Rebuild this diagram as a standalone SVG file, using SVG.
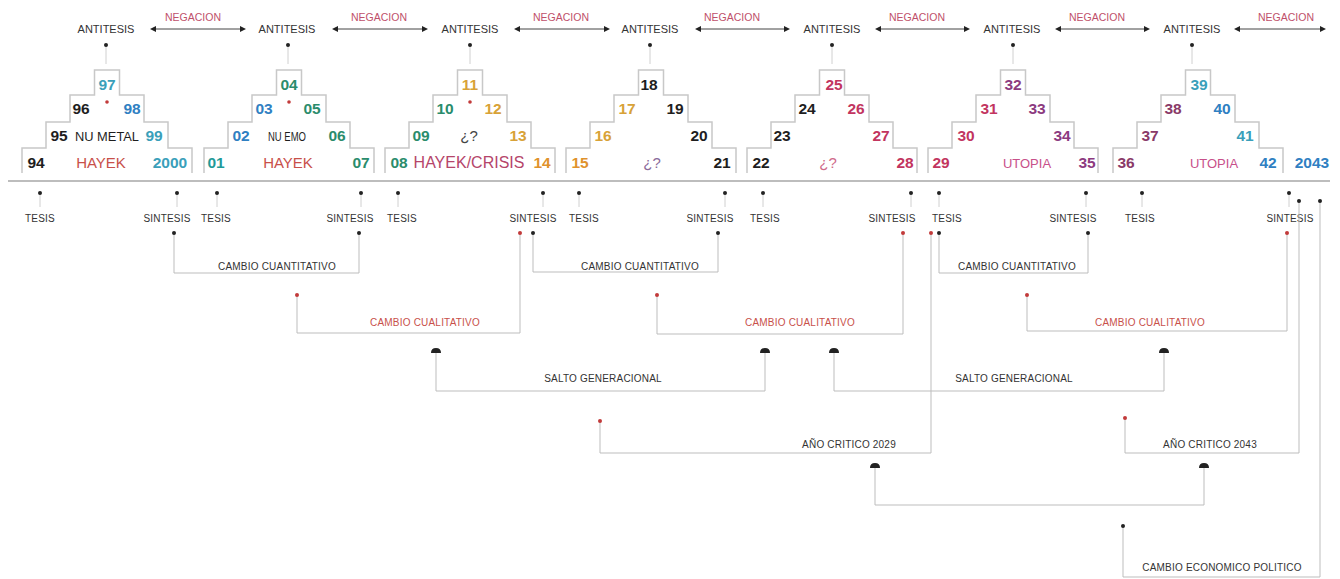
<svg xmlns="http://www.w3.org/2000/svg" xmlns:xlink="http://www.w3.org/1999/xlink" width="1340" height="579" viewBox="0 0 1340 579">
<style>
text{font-family:"Liberation Sans",Arial,sans-serif}
.lb{font-size:10px;fill:#333;text-anchor:middle;letter-spacing:0.2px}
.la{font-size:11px;fill:#333;text-anchor:middle}
.ng{font-size:10.5px;fill:#c0506a;text-anchor:middle}
.cq{font-size:10px;fill:#c8504a;text-anchor:middle;letter-spacing:0.2px}
.n{font-size:15.5px;font-weight:bold;text-anchor:middle}
.w{text-anchor:middle}
.k{fill:#1e1e1e}.cy{fill:#3a9fba}.bl{fill:#2f80c2}.tl{fill:#1f9a98}.gr{fill:#2a8c6c}.go{fill:#d8a238}.or{fill:#e0922c}.cr{fill:#c2355f}.pu{fill:#8c3a80}.mr{fill:#8a3a68}
.stair{fill:none;stroke:#c8c8c8;stroke-width:1.5}
.ln{fill:none;stroke:#bdbdbd;stroke-width:1}
.tick{fill:none;stroke:#d0d0d0;stroke-width:1}
.base{stroke:#bdbdbd;stroke-width:2}
.d{fill:#222}.dr{fill:#c23a3a}
.neg{stroke:#444;stroke-width:1;marker-start:url(#ah);marker-end:url(#ah)}
</style>
<defs>
<path id="stairp" d="M-85,173 V148 H-61 V122 H-37 V95 H-12.5 V70 H12.5 V95 H37 V122 H61 V148 H85 V173"/>
<path id="dome" d="M-5,0 Q-5,-5 0,-5 Q5,-5 5,0 Z"/>
<marker id="ah" viewBox="0 0 10 10" refX="5" refY="5" markerWidth="6" markerHeight="6" orient="auto-start-reverse" markerUnits="userSpaceOnUse">
<path d="M0,0 L10,5 L0,10 Z" fill="#222"/>
</marker>
</defs>
<rect width="1340" height="579" fill="#ffffff"/>

<!-- top row antitesis / negacion -->
<g id="antitesis">
<text class="la" x="106" y="33">ANTITESIS</text>
<text class="la" x="287" y="33">ANTITESIS</text>
<text class="la" x="470" y="33">ANTITESIS</text>
<text class="la" x="650" y="33">ANTITESIS</text>
<text class="la" x="832" y="33">ANTITESIS</text>
<text class="la" x="1012" y="33">ANTITESIS</text>
<text class="la" x="1192" y="33">ANTITESIS</text>
</g>
<g id="negacion">
<text class="ng" x="193" y="21">NEGACION</text>
<text class="ng" x="379" y="21">NEGACION</text>
<text class="ng" x="561" y="21">NEGACION</text>
<text class="ng" x="732" y="21">NEGACION</text>
<text class="ng" x="917" y="21">NEGACION</text>
<text class="ng" x="1097" y="21">NEGACION</text>
<text class="ng" x="1286" y="21">NEGACION</text>
</g>

<!-- pyramids -->
<g id="pyramid1">
<use xlink:href="#stairp" class="stair" x="107"/>
<circle class="dr" cx="107" cy="102" r="1.8"/>
<text class="n cy" x="107" y="90">97</text>
<text class="n k" x="81" y="114">96</text>
<text class="n bl" x="132" y="114">98</text>
<text class="n k" x="59" y="141">95</text>
<text class="w k" x="107" y="141" font-size="13" textLength="64" lengthAdjust="spacingAndGlyphs">NU METAL</text>
<text class="n cy" x="154" y="141">99</text>
<text class="n k" x="36" y="168">94</text>
<text class="w" x="101" y="168" font-size="15" fill="#c8504a">HAYEK</text>
<text class="n cy" x="170" y="168">2000</text>
</g>
<g id="pyramid2">
<use xlink:href="#stairp" class="stair" x="289"/>
<circle class="dr" cx="289" cy="102" r="1.8"/>
<text class="n gr" x="289" y="90">04</text>
<text class="n bl" x="264" y="114">03</text>
<text class="n gr" x="312" y="114">05</text>
<text class="n bl" x="241" y="141">02</text>
<text class="w k" x="287" y="141" font-size="12" textLength="38" lengthAdjust="spacingAndGlyphs">NU EMO</text>
<text class="n gr" x="337" y="141">06</text>
<text class="n tl" x="216" y="168">01</text>
<text class="w" x="288" y="168" font-size="15" fill="#c8504a">HAYEK</text>
<text class="n gr" x="361" y="168">07</text>
</g>
<g id="pyramid3">
<use xlink:href="#stairp" class="stair" x="470"/>
<circle class="dr" cx="470" cy="102" r="1.8"/>
<text class="n go" x="470" y="90">11</text>
<text class="n gr" x="445" y="114">10</text>
<text class="n go" x="493" y="114">12</text>
<text class="n gr" x="421" y="141">09</text>
<text class="w" x="469" y="141" font-size="15" fill="#444">¿?</text>
<text class="n go" x="518" y="141">13</text>
<text class="n gr" x="399" y="168">08</text>
<text class="w" x="469" y="168" font-size="16" fill="#b5456a">HAYEK/CRISIS</text>
<text class="n or" x="542" y="168">14</text>
</g>
<g id="pyramid4">
<use xlink:href="#stairp" class="stair" x="651"/>
<text class="n k" x="649" y="90">18</text>
<text class="n go" x="627" y="114">17</text>
<text class="n k" x="675" y="114">19</text>
<text class="n go" x="603" y="141">16</text>
<text class="n k" x="699" y="141">20</text>
<text class="n or" x="580" y="168">15</text>
<text class="w" x="652" y="168" font-size="15" fill="#8a6a9a">¿?</text>
<text class="n k" x="722" y="168">21</text>
</g>
<g id="pyramid5">
<use xlink:href="#stairp" class="stair" x="832"/>
<text class="n cr" x="834" y="90">25</text>
<text class="n k" x="807" y="114">24</text>
<text class="n cr" x="856" y="114">26</text>
<text class="n k" x="782" y="141">23</text>
<text class="n cr" x="881" y="141">27</text>
<text class="n k" x="761" y="168">22</text>
<text class="w" x="828" y="168" font-size="15" fill="#d06a8a">¿?</text>
<text class="n cr" x="905" y="168">28</text>
</g>
<g id="pyramid6">
<use xlink:href="#stairp" class="stair" x="1013"/>
<text class="n pu" x="1013" y="90">32</text>
<text class="n cr" x="989" y="114">31</text>
<text class="n pu" x="1037" y="114">33</text>
<text class="n cr" x="966" y="141">30</text>
<text class="n pu" x="1062" y="141">34</text>
<text class="n cr" x="941" y="168">29</text>
<text class="w" x="1027" y="168" font-size="13" fill="#c8508a">UTOPIA</text>
<text class="n pu" x="1087" y="168">35</text>
</g>
<g id="pyramid7">
<use xlink:href="#stairp" class="stair" x="1198"/>
<text class="n cy" x="1199" y="90">39</text>
<text class="n mr" x="1173" y="114">38</text>
<text class="n bl" x="1222" y="114">40</text>
<text class="n mr" x="1150" y="141">37</text>
<text class="n cy" x="1245" y="141">41</text>
<text class="n mr" x="1126" y="168">36</text>
<text class="w" x="1214" y="168" font-size="13" fill="#c8508a">UTOPIA</text>
<text class="n bl" x="1268" y="168">42</text>
<text class="n bl" x="1312" y="168">2043</text>
</g>

<!-- lower labels -->
<g id="tesis">
<text class="lb" x="40" y="221.5">TESIS</text>
<text class="lb" x="216" y="221.5">TESIS</text>
<text class="lb" x="402" y="221.5">TESIS</text>
<text class="lb" x="584" y="221.5">TESIS</text>
<text class="lb" x="765" y="221.5">TESIS</text>
<text class="lb" x="947" y="221.5">TESIS</text>
<text class="lb" x="1140" y="221.5">TESIS</text>
</g>
<g id="sintesis">
<text class="lb" x="167" y="221.5">SINTESIS</text>
<text class="lb" x="350" y="221.5">SINTESIS</text>
<text class="lb" x="533" y="221.5">SINTESIS</text>
<text class="lb" x="710" y="221.5">SINTESIS</text>
<text class="lb" x="892" y="221.5">SINTESIS</text>
<text class="lb" x="1073" y="221.5">SINTESIS</text>
<text class="lb" x="1290" y="221.5">SINTESIS</text>
</g>
<g id="cambio-cuantitativo">
<text class="lb" x="277" y="270">CAMBIO CUANTITATIVO</text>
<text class="lb" x="640" y="270">CAMBIO CUANTITATIVO</text>
<text class="lb" x="1017" y="270">CAMBIO CUANTITATIVO</text>
</g>
<g id="cambio-cualitativo">
<text class="cq" x="425" y="325.5">CAMBIO CUALITATIVO</text>
<text class="cq" x="800" y="325.5">CAMBIO CUALITATIVO</text>
<text class="cq" x="1150" y="325.5">CAMBIO CUALITATIVO</text>
</g>
<g id="salto-generacional">
<text class="lb" x="603" y="381.5" font-size="10.5">SALTO GENERACIONAL</text>
<text class="lb" x="1014" y="381.5" font-size="10.5">SALTO GENERACIONAL</text>
</g>
<g id="ano-critico">
<text class="lb" x="849" y="447.5" font-size="10.5">AÑO CRITICO 2029</text>
<text class="lb" x="1210" y="447.5" font-size="10.5">AÑO CRITICO 2043</text>
</g>
<g id="cambio-economico-politico">
<text class="lb" x="1222" y="570.5" font-size="10.5">CAMBIO ECONOMICO POLITICO</text>
</g>

<!-- connectors -->
<g id="connectors">
<line class="base" x1="8" y1="181" x2="1330" y2="181"/>
<line class="neg" x1="153" y1="29" x2="243" y2="29"/>
<line class="neg" x1="335" y1="29" x2="425" y2="29"/>
<line class="neg" x1="517" y1="29" x2="607" y2="29"/>
<line class="neg" x1="698" y1="29" x2="787" y2="29"/>
<line class="neg" x1="878" y1="29" x2="967" y2="29"/>
<line class="neg" x1="1058" y1="29" x2="1147" y2="29"/>
<line class="neg" x1="1237" y1="29" x2="1323" y2="29"/>
<!-- antitesis ticks -->
<path class="tick" d="M106,45 V64 M288,45 V64 M470,45 V64 M650,45 V64 M832,45 V64 M1013,45 V64 M1192,45 V64"/>
<g class="d">
<circle cx="106" cy="45" r="2"/><circle cx="288" cy="45" r="2"/><circle cx="470" cy="45" r="2"/><circle cx="650" cy="45" r="2"/><circle cx="832" cy="45" r="2"/><circle cx="1013" cy="45" r="2"/><circle cx="1192" cy="45" r="2"/>
</g>
<!-- tesis/sintesis ticks -->
<path class="tick" d="M40,193 V207 M177,193 V207 M217,193 V207 M361,193 V207 M398,193 V207 M543,193 V207 M579,193 V207 M725,193 V207 M763,193 V207 M911,193 V207 M939,193 V207 M1086,193 V207 M1142,193 V207 M1289,193 V207"/>
<g class="d">
<circle cx="40" cy="193" r="2"/><circle cx="177" cy="193" r="2"/><circle cx="217" cy="193" r="2"/><circle cx="361" cy="193" r="2"/><circle cx="398" cy="193" r="2"/><circle cx="543" cy="193" r="2"/><circle cx="579" cy="193" r="2"/><circle cx="725" cy="193" r="2"/><circle cx="763" cy="193" r="2"/><circle cx="911" cy="193" r="2"/><circle cx="939" cy="193" r="2"/><circle cx="1086" cy="193" r="2"/><circle cx="1142" cy="193" r="2"/><circle cx="1289" cy="193" r="2"/>
</g>
<!-- brackets -->
<path class="ln" d="M174,233 V273 H359 V233"/>
<path class="ln" d="M533,233 V272 H718 V233"/>
<path class="ln" d="M939,233 V273 H1088 V233"/>
<path class="ln" d="M297,295 V333 H520 V233"/>
<path class="ln" d="M657,295 V334 H903 V233"/>
<path class="ln" d="M1027,295 V331 H1287 V233"/>
<path class="ln" d="M436,351 V391 H765 V351"/>
<path class="ln" d="M834,351 V391 H1164 V351"/>
<path class="ln" d="M600,421 V453 H931 V233"/>
<path class="ln" d="M1125,418 V453 H1299 V201"/>
<path class="ln" d="M875,466 V505 H1204 V466"/>
<path class="ln" d="M1123,526 V577 H1320 V201"/>
<g class="d">
<circle cx="174" cy="233" r="2"/><circle cx="359" cy="233" r="2"/>
<circle cx="533" cy="233" r="2"/><circle cx="718" cy="233" r="2"/>
<circle cx="939" cy="233" r="2"/><circle cx="1088" cy="233" r="2"/>
<circle cx="1299" cy="201" r="2"/><circle cx="1320" cy="201" r="2"/>
<circle cx="1123" cy="526" r="2"/>
</g>
<g class="dr">
<circle cx="520" cy="233" r="2"/><circle cx="903" cy="233" r="2"/><circle cx="931" cy="233" r="2"/><circle cx="1287" cy="233" r="2"/>
<circle cx="297" cy="295" r="2"/><circle cx="657" cy="295" r="2"/><circle cx="1027" cy="295" r="2"/>
<circle cx="600" cy="421" r="2"/><circle cx="1125" cy="418" r="2"/>
</g>
<g class="d">
<use xlink:href="#dome" x="436" y="353"/><use xlink:href="#dome" x="765" y="353"/>
<use xlink:href="#dome" x="834" y="353"/><use xlink:href="#dome" x="1164" y="353"/>
<use xlink:href="#dome" x="875" y="468"/><use xlink:href="#dome" x="1204" y="468"/>
</g>
</g>
</svg>
